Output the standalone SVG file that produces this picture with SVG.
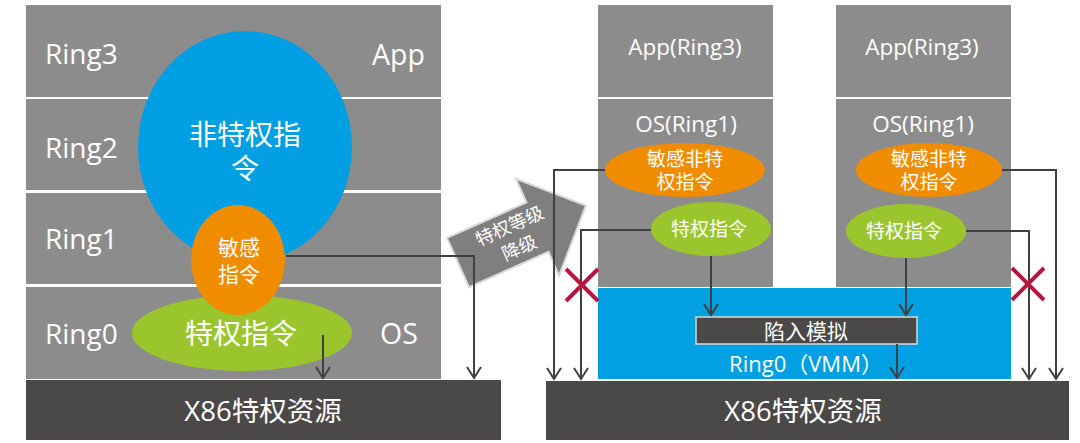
<svg xmlns="http://www.w3.org/2000/svg" width="1080" height="443" viewBox="0 0 1080 443">
<style>
text{font-family:"Open Sans","Noto Sans CJK SC",sans-serif;fill:#fff}
.row{fill:#8c8c8c}
.bar{fill:#4b4948}
.conn{fill:none;stroke:#404040;stroke-width:2}
.x{stroke:#b5173f;stroke-width:4;stroke-linecap:butt}
.c{text-anchor:middle}
</style>
<defs>
<marker id="ah" markerUnits="userSpaceOnUse" markerWidth="14" markerHeight="16" viewBox="-1 -8 13 16" refX="11" refY="0" orient="auto">
<path d="M0,-7 L11,0 L0,7" fill="none" stroke="#404040" stroke-width="2"/>
</marker>
</defs>
<rect width="1080" height="443" fill="#fff"/>

<g id="left-stack">
<rect class="row" x="26" y="5" width="415" height="92"/>
<rect class="row" x="26" y="99" width="415" height="91"/>
<rect class="row" x="26" y="193" width="415" height="91"/>
<rect class="row" x="26" y="287" width="415" height="92"/>
<text x="45" y="64" font-size="28">Ring3</text>
<text x="45" y="158" font-size="28">Ring2</text>
<text x="45" y="249" font-size="28">Ring1</text>
<text x="45" y="344" font-size="28">Ring0</text>
<text x="372" y="65" font-size="28.5">App</text>
<text x="380" y="344" font-size="28.5">OS</text>
</g>

<g id="unpriv">
<ellipse cx="245" cy="147" rx="107" ry="116" fill="#009fe3"/>
<text class="c" x="245" y="145" font-size="28">非特权指</text>
<text class="c" x="245" y="179" font-size="28">令</text>
</g>
<g id="priv-left">
<ellipse cx="242" cy="333" rx="110" ry="38" fill="#9bc52d"/>
<text class="c" x="241" y="344" font-size="28">特权指令</text>
</g>
<g id="sens-left">
<ellipse cx="238" cy="260" rx="47" ry="55" fill="#f08c00"/>
<text class="c" x="239" y="255" font-size="21">敏感</text>
<text class="c" x="239" y="282" font-size="21">指令</text>
</g>

<g id="x86-left">
<rect class="bar" x="26" y="380" width="475" height="60"/>
<text class="c" x="263" y="421" font-size="27.5">X86特权资源</text>
</g>

<g id="downgrade-arrow" transform="translate(458,262.5) rotate(-24)">
<path d="M0,-27 L87,-27 L87,-53 L140,0 L87,53 L87,27 L0,27 Z" fill="#7f7f7f" stroke="#d9d9d9" stroke-width="2"/>
<text class="c" x="62" y="-6" font-size="18" fill="#eee">特权等级</text>
<text class="c" x="62" y="18" font-size="18" fill="#eee">降级</text>
</g>

<g id="vm1">
<rect class="row" x="598" y="5" width="175" height="92"/>
<rect class="row" x="598" y="99" width="175" height="188"/>
<text class="c" x="685" y="55" font-size="22.5">App(Ring3)</text>
<text class="c" x="686" y="132" font-size="22.5">OS(Ring1)</text>
</g>
<g id="vm2">
<rect class="row" x="836" y="5" width="175" height="92"/>
<rect class="row" x="836" y="99" width="175" height="188"/>
<text class="c" x="922" y="55" font-size="22.5">App(Ring3)</text>
<text class="c" x="923" y="132" font-size="22.5">OS(Ring1)</text>
</g>

<g id="vmm">
<rect x="598" y="288" width="413" height="91" fill="#00a0e3"/>
<text class="c" x="806" y="372" font-size="22">Ring0（VMM）</text>
</g>
<g id="trap">
<rect x="696" y="317" width="221" height="27" fill="#4b4948" stroke="#d9d9d9" stroke-width="1.5"/>
<text class="c" x="806" y="339" font-size="21">陷入模拟</text>
</g>

<g id="sens-vm1">
<ellipse cx="685" cy="170" rx="80" ry="27" fill="#f08c00"/>
<text class="c" x="685" y="166" font-size="19">敏感非特</text>
<text class="c" x="685" y="189" font-size="19">权指令</text>
</g>
<g id="priv-vm1">
<ellipse cx="711" cy="229" rx="60" ry="27" fill="#9bc52d"/>
<text class="c" x="709" y="236" font-size="19">特权指令</text>
</g>
<g id="sens-vm2">
<ellipse cx="929" cy="170" rx="73" ry="27" fill="#f08c00"/>
<text class="c" x="929" y="166" font-size="19">敏感非特</text>
<text class="c" x="929" y="189" font-size="19">权指令</text>
</g>
<g id="priv-vm2">
<ellipse cx="906" cy="231" rx="60" ry="27" fill="#9bc52d"/>
<text class="c" x="904" y="238" font-size="19">特权指令</text>
</g>

<g id="x86-right">
<rect class="bar" x="546" y="381" width="523" height="59"/>
<text class="c" x="803" y="421" font-size="27.5">X86特权资源</text>
</g>

<g id="connectors">
<path class="conn" d="M286,256 L474,256 L474,378" marker-end="url(#ah)"/>
<path class="conn" d="M323,335 L323,378" marker-end="url(#ah)"/>
<path class="conn" d="M605,170 L554,170 L554,379" marker-end="url(#ah)"/>
<path class="conn" d="M651,230 L581,230 L581,379" marker-end="url(#ah)"/>
<path class="conn" d="M711,256 L711,315" marker-end="url(#ah)"/>
<path class="conn" d="M897,344 L897,378" marker-end="url(#ah)"/>
<path class="conn" d="M906,258 L906,315" marker-end="url(#ah)"/>
<path class="conn" d="M1002,170 L1056,170 L1056,379" marker-end="url(#ah)"/>
<path class="conn" d="M966,231 L1029,231 L1029,379" marker-end="url(#ah)"/>
</g>

<g id="x-marks">
<path class="x" d="M566,269 L598,301 M598,269 L566,301"/>
<path class="x" d="M1012,268 L1044,300 M1044,268 L1012,300"/>
</g>
</svg>
